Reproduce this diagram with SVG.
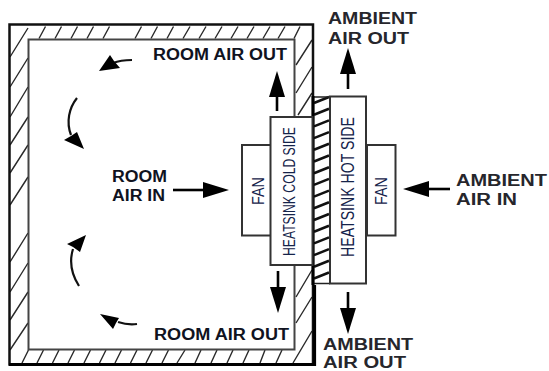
<svg xmlns="http://www.w3.org/2000/svg" width="549" height="371" viewBox="0 0 549 371">
<style>
.h{stroke:#2a2a2a;stroke-width:1.4;fill:none}
.w{fill:none;stroke:#111}
.box{fill:#fff;stroke:#333;stroke-width:2}
.a{stroke:#000;stroke-width:2.600;fill:none}
.c{stroke:#111;stroke-width:2.200;fill:none}
.hd{fill:#000}
.b{font-family:"Liberation Sans",Arial,sans-serif;font-weight:700;font-size:16px;fill:#10131f}
.am{fill:#26262c}
.r{font-family:"Liberation Sans",Arial,sans-serif;font-size:16.500px;fill:#15234a}
</style>
<defs>
<marker id="head" markerUnits="userSpaceOnUse" markerWidth="30" markerHeight="18" viewBox="0 0 30 18" refX="0" refY="9" orient="auto" overflow="visible"><path d="M0 1L26 9L0 17Z" fill="#000"/></marker>
</defs>
<rect width="549" height="371" fill="#fff"/>
<g id="room-wall">
<path class="h" d="M10 57L28 28M10 87L28 58M10 117L28 87M10 145L28 117M10 173L28 145M10 205L28 177M10 262L28 233M10 292L28 263M10 320L28 292M10 350L28 323"/>
<path class="h" d="M39 38.500L45.500 26.500M55 38.500L61.500 26.500M71 38.500L77.500 26.500M87 38.500L93.500 26.500M103 38.500L109.500 26.500M135 38.500L141.500 26.500M151 38.500L157.500 26.500M167 38.500L173.500 26.500M183 38.500L190 26.500M199 38.500L206 26.500M215 38.500L222 26.500M231 38.500L238 26.500M247 38.500L254 26.500M263 38.500L270 26.500M278 38.500L285 26.500M294 38.500L300 26.500"/>
<path class="h" d="M296 65L312 40M296 93L312 67M298 115L312 93M296 297L312 270M296 323L312 297M293 363L312 331"/>
<path class="h" d="M22 363L28.500 350M37 363L43.500 350M52.500 363L59 350M68 363L74.500 350M84 363L90.500 350M99.500 363L106 350M115 363L121.500 350M130.500 363L137 350M146 363L152.500 350M162 363L168.500 350M177 363L185 350M195 363L201 350M211 363L217 350M227 363L233 350M243 363L249 350M260 363L265 350M276 363L282 350"/>
<path class="w" stroke-width="2.500" d="M9.500 24.500H313V364.500H9.500Z"/>
<path fill="none" stroke="#000" stroke-width="3.200" d="M9 364.500H314.500V285"/>
<path fill="none" stroke="#444" stroke-width="2" d="M294.500 117V39.500H28.500V349.500H294.500V265"/>
</g>
<g id="thermoelectric">
<path stroke="#111" stroke-width="2.600" fill="none" d="M314 103L329 97M314 114.700L329 108.700M314 126.400L329 120.400M314 138.100L329 132.100M314 149.800L329 143.800M314 161.500L329 155.500M314 173.200L329 167.200M314 184.900L329 178.900M314 196.600L329 190.600M314 208.300L329 202.300M314 220L329 214M314 231.700L329 225.700M314 243.400L329 237.400M314 255.100L329 249.100M314 266.800L329 260.800M314 278.500L329 272.500"/>
<path fill="none" stroke="#222" stroke-width="1.500" d="M313 97H330M313 283.500H330"/>
<path fill="none" stroke="#000" stroke-width="3" d="M313 96V285"/>
</g>
<g id="fan-cold">
<rect class="box" x="242" y="145" width="29" height="90.500"/>
<text class="r" transform="translate(263.500 205) rotate(-90)" textLength="28" lengthAdjust="spacingAndGlyphs">FAN</text>
</g>
<g id="heatsink-cold">
<rect class="box" x="270.500" y="117" width="42" height="148"/>
<text class="r" transform="translate(295 256) rotate(-90)" textLength="129" lengthAdjust="spacingAndGlyphs">HEATSINK COLD SIDE</text>
</g>
<g id="heatsink-hot">
<rect class="box" x="330" y="96.500" width="36" height="187"/>
<text class="r" style="font-size:18px" transform="translate(353.500 257) rotate(-90)" textLength="140" lengthAdjust="spacingAndGlyphs">HEATSINK HOT SIDE</text>
</g>
<g id="fan-hot">
<rect class="box" x="367" y="145" width="28.500" height="90.500"/>
<text class="r" transform="translate(386.500 205) rotate(-90)" textLength="28" lengthAdjust="spacingAndGlyphs">FAN</text>
</g>
<g id="connectors">
<line class="a" x1="173" y1="190" x2="203" y2="190" marker-end="url(#head)"/>
<line class="a" x1="450" y1="189" x2="429" y2="189" marker-end="url(#head)"/>
<line class="a" x1="277" y1="111" x2="277" y2="97" marker-end="url(#head)"/>
<line class="a" x1="278" y1="271" x2="278" y2="287" marker-end="url(#head)"/>
<line class="a" x1="348" y1="89" x2="348" y2="74" marker-end="url(#head)"/>
<line class="a" x1="348" y1="292" x2="348" y2="308" marker-end="url(#head)"/>
<path class="c" d="M132 60C124 60 118 61 113 63"/>
<polygon class="hd" points="99,71 110,55 114,61 120,68"/>
<path class="c" d="M77 98C69 108 66 122 71 135"/>
<polygon class="hd" points="84,149 64,140 71,136 77,132"/>
<path class="c" d="M79 286C72 275 69 262 73 249"/>
<polygon class="hd" points="86,235 67,244 73,247 80,252"/>
<path class="c" d="M137 324C130 325 124 324 118 322"/>
<polygon class="hd" points="100,314 119,318 116,323 113,329"/>
</g>
<g id="labels">
<text class="b" x="153" y="60" textLength="134" lengthAdjust="spacingAndGlyphs">ROOM AIR OUT</text>
<text class="b" x="154" y="340" textLength="135" lengthAdjust="spacingAndGlyphs">ROOM AIR OUT</text>
<text class="b" x="112" y="182" textLength="55" lengthAdjust="spacingAndGlyphs">ROOM</text>
<text class="b" x="112" y="201" textLength="53" lengthAdjust="spacingAndGlyphs">AIR IN</text>
<text class="b am" x="328" y="24" textLength="89" lengthAdjust="spacingAndGlyphs">AMBIENT</text>
<text class="b am" x="328" y="44" textLength="81" lengthAdjust="spacingAndGlyphs">AIR OUT</text>
<text class="b am" x="323" y="350" textLength="90" lengthAdjust="spacingAndGlyphs">AMBIENT</text>
<text class="b am" x="323" y="368" textLength="83" lengthAdjust="spacingAndGlyphs">AIR OUT</text>
<text class="b am" x="456" y="186" textLength="91" lengthAdjust="spacingAndGlyphs">AMBIENT</text>
<text class="b am" x="456" y="205" textLength="61" lengthAdjust="spacingAndGlyphs">AIR IN</text>
</g>
</svg>
